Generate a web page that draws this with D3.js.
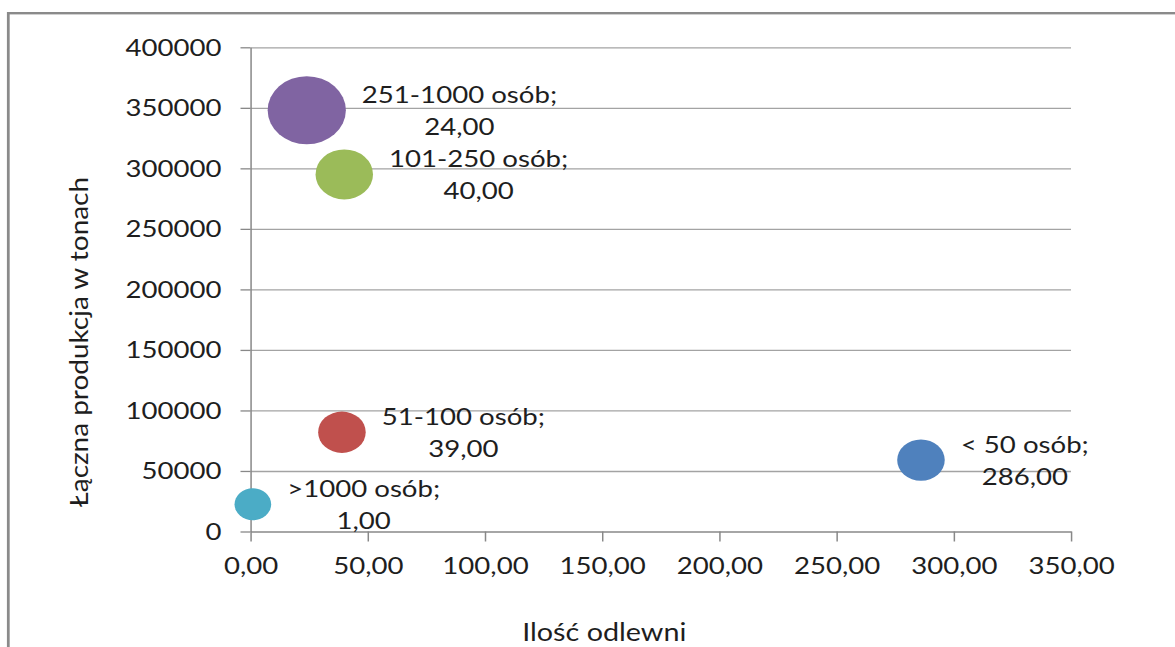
<!DOCTYPE html>
<html>
<head>
<meta charset="utf-8">
<script src="https://cdn.jsdelivr.net/npm/d3@7"></script>
<style>
  html, body { margin: 0; padding: 0; background: #fff; }
  svg { display: block; }
  text { font-family: Lato, "Open Sans", sans-serif; fill: #1e1e1e; }
</style>
</head>
<body>
<div id="chart"></div>
<script>
// Foundries by employment size class
const categories   = ["< 50 osób", "51-100 osób", "101-250 osób", "251-1000 osób", ">1000 osób"];
const foundryCount = [286, 39, 40, 24, 1];                       // x: number of foundries
const production   = [59000, 82000, 295000, 348000, 22500];      // y: total production, tonnes
const bubbleSize   = [37, 37, 54, 100, 22];                       // relative bubble size
const xTicks = [0, 50, 100, 150, 200, 250, 300, 350];
const yTicks = [0, 50000, 100000, 150000, 200000, 250000, 300000, 350000, 400000];
const palette = ["#4f81bd", "#c0504d", "#9bbb59", "#8064a2", "#4bacc6"];

const W = 1175, H = 647;
const SX = 1.15;                 // horizontal stretch of the drawing
const VW = W / SX;
const px = v => v / SX;          // screen x -> drawing units

const svg = d3.select("#chart").append("svg")
  .attr("width", W).attr("height", H)
  .attr("viewBox", `0 0 ${VW} ${H}`)
  .attr("preserveAspectRatio", "none");

// outer frame
svg.append("rect")
  .attr("x", px(8.3)).attr("y", 13.2)
  .attr("width", VW).attr("height", H)
  .attr("fill", "none").attr("stroke", "#8a8a8a").attr("stroke-width", 2.4);

const x = d3.scaleLinear().domain([0, 350]).range([px(250.5), px(1071)]);
const y = d3.scaleLinear().domain([0, 400000]).range([531.5, 47.3]);
const r = d3.scaleSqrt().domain([0, d3.max(bubbleSize)]).range([0, 34]);

const axisColor = "#888888";
const gridColor = "#a3a3a3";

// horizontal gridlines
const grid = svg.append("g")
  .attr("transform", `translate(${x(0)},0)`)
  .call(d3.axisLeft(y).tickValues(yTicks.slice(1)).tickSize(-(x(350) - x(0))).tickFormat(""));
grid.select(".domain").remove();
grid.selectAll("line").attr("stroke", gridColor).attr("stroke-width", 1.3);

// y axis
const yAxis = svg.append("g")
  .attr("transform", `translate(${x(0)},0)`)
  .call(d3.axisLeft(y).tickValues(yTicks).tickSize(px(10)).tickSizeOuter(0)
        .tickPadding(16.5).tickFormat(d => String(d)));
yAxis.selectAll("text").style("font-size", "24px").attr("dy", "0.33em");

// x axis
const xAxis = svg.append("g")
  .attr("transform", `translate(0,${y(0)})`)
  .call(d3.axisBottom(x).tickValues(xTicks).tickSize(10).tickSizeOuter(0)
        .tickPadding(15.5).tickFormat(d => d.toFixed(2).replace(".", ",")));
xAxis.selectAll("text").style("font-size", "24px");

[yAxis, xAxis].forEach(a => {
  a.select(".domain").attr("stroke", axisColor).attr("stroke-width", 1.3);
  a.selectAll(".tick line").attr("stroke", axisColor).attr("stroke-width", 1.3);
  a.selectAll("text").attr("fill", "#1e1e1e").style("font-family", "Lato, 'Open Sans', sans-serif");
});

// axis titles
svg.append("text")
  .attr("x", px(604.3)).attr("y", 640.7)
  .attr("text-anchor", "middle")
  .style("font-size", "25px")
  .text("Ilość odlewni");

svg.append("text")
  .attr("transform", `translate(${px(88)},342) rotate(-90)`)
  .attr("text-anchor", "middle")
  .attr("textLength", 330)
  .attr("lengthAdjust", "spacingAndGlyphs")
  .style("font-size", "22px")
  .text("Łączna produkcja w tonach");

// bubbles
const data = categories.map((c, i) => ({
  name: c, n: foundryCount[i], t: production[i], s: bubbleSize[i], color: palette[i]
}));

svg.append("g").selectAll("circle").data(data).join("circle")
  .attr("cx", d => x(d.n))
  .attr("cy", d => y(d.t))
  .attr("r", d => r(d.s))
  .attr("fill", d => d.color);

// data labels: series name and x value, to the right of each bubble
const labels = svg.append("g").selectAll("g").data(data).join("g");
labels.each(function (d) {
  const g = d3.select(this);
  const cx = x(d.n), cy = y(d.t), left = cx + r(d.s) + px(16);
  const l1 = g.append("text").style("font-size", "24px").attr("text-anchor", "middle")
    .attr("y", cy - 7).text(d.name + ";");
  const l2 = g.append("text").style("font-size", "24px").attr("text-anchor", "middle")
    .attr("y", cy + 24.7).text(d.n.toFixed(2).replace(".", ","));
  const w = Math.max(l1.node().getComputedTextLength(), l2.node().getComputedTextLength());
  l1.attr("x", left + w / 2);
  l2.attr("x", left + w / 2);
});
</script>
</body>
</html>
